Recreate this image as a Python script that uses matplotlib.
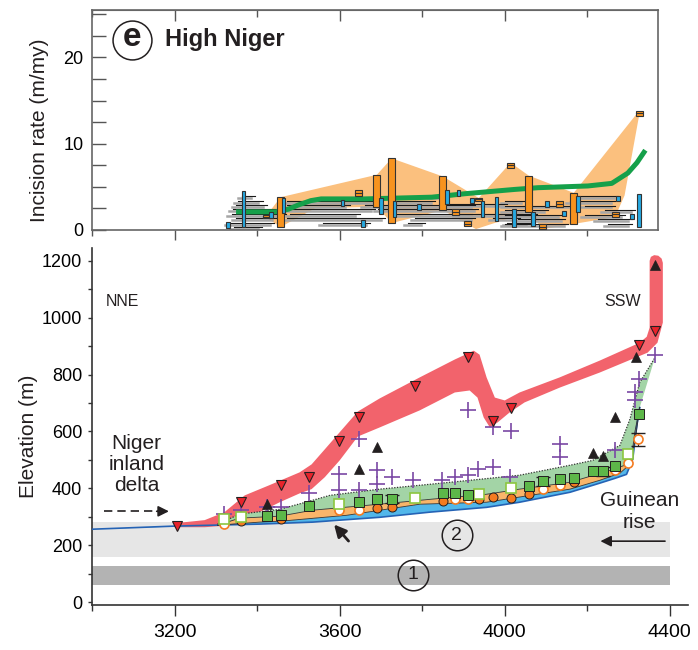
import numpy as np
import matplotlib.pyplot as plt
from matplotlib.ticker import MultipleLocator

plt.rcParams['font.family'] = ['Liberation Sans', 'DejaVu Sans']
plt.rcParams['text.color'] = '#231f20'

# ---------------- top panel: incision rates (m/my) ----------------
blue_x = [3329, 3367, 3433, 3464, 3607, 3656, 3700, 3733, 3792, 3860, 3888, 3920,
          3946, 3980, 4022, 4068, 4102, 4143, 4177, 4274, 4308, 4325]
blue_lo = [0.2, 0.35, 1.4, 2.0, 2.8, 0.35, 1.9, 1.5, 2.3, 3.0, 3.9, 3.1,
           1.5, 1.0, 0.35, 0.5, 2.7, 1.6, 2.1, 3.4, 1.3, 0.35]
blue_hi = [0.9, 4.5, 2.1, 3.7, 3.5, 1.2, 3.7, 3.3, 3.0, 4.6, 4.6, 3.7,
           3.3, 3.8, 2.4, 2.1, 3.3, 2.2, 3.9, 3.9, 1.9, 4.2]

or_x = [3423, 3457, 3646, 3690, 3726, 3850, 3881, 3910, 3937, 4014, 4058, 4092,
        4133, 4167, 4267, 4325]
or_lo = [1.4, 0.35, 3.9, 2.7, 0.8, 2.3, 1.7, 0.45, 3.4, 7.2, 2.1, 0.1,
         2.7, 0.7, 1.5, 13.2]
or_hi = [1.7, 3.8, 4.6, 6.4, 8.3, 6.2, 2.4, 1.0, 3.7, 7.8, 6.3, 0.7,
         3.3, 4.3, 2.1, 13.8]

env_up_x = [3423, 3457, 3690, 3726, 3850, 3937, 4014, 4058, 4167, 4325]
env_up_y = [1.7, 3.8, 6.4, 8.3, 6.2, 3.7, 7.8, 6.3, 4.3, 13.8]
env_lo_x = [3423, 3457, 3540, 3690, 3726, 3850, 3930, 4058, 4092, 4167, 4267, 4290, 4325]
env_lo_y = [1.4, 0.35, 2.5, 2.7, 0.8, 2.3, 0.1, 2.1, 0.1, 0.7, 1.5, 4.0, 13.2]

green_x = [3355, 3445, 3475, 3500, 3530, 3555, 3661, 3823, 3903, 4024, 4080,
           4201, 4259, 4298, 4320, 4337]
green_y = [2.1, 2.1, 2.4, 2.9, 3.4, 3.6, 3.6, 3.8, 4.2, 4.7, 4.9,
           5.1, 5.4, 6.6, 7.8, 9.0]

# horizontal age-range lines (x start, x end, rate)
seg = [(3363, 3394, 3.95), (3353, 3413, 3.37), (3350, 3423, 2.9), (3341, 3447, 2.44),
       (3338, 3471, 1.86), (3350, 3447, 1.39), (3333, 3442, 0.81), (3345, 3411, 0.35),
       (3472, 3697, 3.4), (3472, 3624, 2.9), (3467, 3685, 2.4), (3479, 3648, 1.86),
       (3472, 3709, 1.36), (3559, 3673, 0.85),
       (3823, 3872, 3.9), (3733, 3830, 3.37), (3661, 3927, 2.87), (3692, 3935, 2.4),
       (3733, 3920, 1.86), (3782, 3927, 1.36), (3765, 3806, 0.85),
       (3860, 4005, 3.0), (3884, 4078, 1.86), (3971, 4036, 1.39), (4005, 4061, 0.81),
       (4177, 4274, 3.9), (4158, 4267, 3.37), (4000, 4048, 3.37), (4000, 4162, 2.83),
       (4194, 4267, 2.83), (4000, 4104, 2.32), (4242, 4315, 2.32), (4000, 4139, 1.74),
       (4194, 4291, 1.74), (4031, 4145, 1.24), (4225, 4308, 1.24), (4000, 4153, 0.7),
       (4250, 4308, 0.7)]

# ---------------- bottom panel: elevation profile (m) ----------------
red_up_x = [3200, 3273, 3321, 3370, 3430, 3503, 3532, 3564, 3600, 3644, 3697, 3794,
            3879, 3925, 3939, 3956, 3976, 4000, 4036, 4133, 4230, 4327, 4344, 4351,
            4351, 4354, 4362, 4372, 4380, 4383]
red_up_y = [277, 288, 316, 375, 411, 456, 484, 537, 597, 670, 716, 790,
            853, 884, 870, 790, 719, 709, 737, 790, 849, 912, 933, 965,
            1200, 1214, 1220, 1218, 1208, 1193]
red_lo_x = [3200, 3273, 3309, 3358, 3406, 3455, 3503, 3532, 3564, 3600, 3644, 3697,
            3794, 3879, 3915, 3934, 3949, 3964, 3983, 4012, 4048, 4133, 4230, 4346,
            4370, 4383]
red_lo_y = [263, 263, 267, 288, 316, 351, 382, 397, 439, 498, 582, 614,
            674, 737, 744, 719, 649, 614, 632, 667, 702, 754, 807, 877,
            912, 983]

l0_x = [3000, 3200, 3406, 3535, 3697, 3818, 3956, 4036, 4158, 4230, 4267, 4295, 4310, 4320, 4327]
l0_y = [256, 267, 274, 281, 298, 316, 333, 351, 386, 418, 435, 449, 502, 621, 684]
l1_x = [3304, 3406, 3455, 3617, 3794, 3956, 4158, 4230, 4279, 4303, 4315, 4327]
l1_y = [270, 281, 284, 305, 344, 351, 397, 428, 453, 484, 561, 684]
l2_x = [3304, 3358, 3455, 3535, 3697, 3818, 3956, 4036, 4158, 4255, 4291, 4308, 4315, 4327]
l2_y = [270, 295, 302, 323, 344, 361, 379, 397, 421, 463, 481, 516, 597, 684]
l3_x = [3304, 3358, 3455, 3535, 3576, 3697, 3818, 3915, 4036, 4158, 4213, 4279, 4303, 4327, 4364]
l3_y = [274, 309, 326, 358, 375, 397, 414, 428, 446, 481, 498, 551, 642, 772, 860]

plus_x = [3321, 3360, 3423, 3457, 3525, 3598, 3598, 3646, 3646, 3690, 3690, 3726, 3777,
          3847, 3879, 3911, 3935, 3971, 4012, 3911, 3971, 4015, 4133, 4133, 4267, 4315,
          4315, 4325, 4364]
plus_y = [309, 323, 333, 333, 382, 449, 393, 572, 393, 463, 414, 439, 428,
          428, 439, 446, 467, 474, 439, 674, 614, 600, 554, 509, 533, 737,
          712, 783, 870]

tri_dn_x = [3205, 3360, 3457, 3525, 3598, 3646, 3782, 3911, 3972, 4016, 4326, 4365]
tri_dn_y = [267, 351, 411, 439, 565, 649, 758, 863, 635, 684, 905, 954]
tri_up_x = [3423, 3646, 3690, 4213, 4238, 4267, 4318, 4364]
tri_up_y = [344, 467, 544, 523, 512, 649, 860, 1186]

sq_x = [3423, 3457, 3525, 3646, 3690, 3726, 3850, 3879, 3911, 4058, 4092, 4133, 4167,
        4213, 4238, 4267, 4325]
sq_y = [302, 305, 337, 351, 361, 361, 382, 382, 375, 407, 425, 432, 435,
        460, 460, 477, 660]
sq_err = [0, 0, 0, 0, 0, 14, 0, 0, 0, 0, 16, 0, 0, 0, 16, 0, 0]
osq_x = [3321, 3360, 3598, 3782, 3937, 4015, 4298]
osq_y = [291, 298, 344, 365, 379, 400, 519]
ci_x = [3360, 3457, 3690, 3726, 3850, 3937, 3971, 4015, 4058, 4167]
ci_y = [284, 291, 330, 333, 354, 361, 368, 365, 379, 421]
oci_x = [3321, 3598, 3646, 3879, 3911, 4092, 4133, 4267, 4298, 4322]
oci_y = [274, 323, 323, 361, 361, 397, 411, 463, 488, 572]

band_x = [3000, 4400]
band2 = (158, 281)
band1 = (60, 126)

fig = plt.figure(figsize=(6.98, 6.50), dpi=100)
ax1 = fig.add_axes([0.1318, 0.6462, 0.8109, 0.3385])
ax2 = fig.add_axes([0.1318, 0.0692, 0.8539, 0.5492])

# ---- top panel ----
ax1.fill(np.r_[env_up_x, env_lo_x[::-1]], np.r_[env_up_y, env_lo_y[::-1]],
         color='#fbc07e', lw=0, zorder=1)
for x0, x1, r in seg:
    ax1.plot([x0 - 10, x1 - 10], [r - 0.22, r - 0.22], color='#a6a6a6', lw=1.8, zorder=2)
    ax1.plot([x0, x1], [r, r], color='#1a1a1a', lw=0.8, zorder=2.1)
ax1.plot(green_x, green_y, color='#15a04a', lw=3.6, zorder=3)
or_lo_a, or_hi_a = np.array(or_lo), np.array(or_hi)
ax1.bar(or_x, or_hi_a - or_lo_a, bottom=or_lo_a, width=17, color='#f7931e',
        edgecolor='#333333', lw=0.8, zorder=4)
for x, lo, hi in zip(or_x, or_lo, or_hi):
    if hi - lo < 1:
        ax1.plot([x - 8, x + 8], [(lo + hi) / 2] * 2, color='#333333', lw=0.8, zorder=4.1)
bl_lo_a, bl_hi_a = np.array(blue_lo), np.array(blue_hi)
ax1.bar(blue_x, bl_hi_a - bl_lo_a, bottom=bl_lo_a, width=9, color='#27a9e1',
        edgecolor='#333333', lw=0.8, zorder=5)

ax1.plot([3098], [22.05], 'o', ms=28, mfc='white', mec='#231f20', mew=1.1, zorder=6)
ax1.text(3098, 22.3, 'e', fontsize=24, fontweight='bold', ha='center', va='center', zorder=7)
ax1.text(3178, 22.05, 'High Niger', fontsize=17, fontweight='bold', ha='left', va='center')

ax1.set_xlim(3000, 4371)
ax1.set_ylim(0, 25.5)
ax1.set_yticks([0, 10, 20])
ax1.yaxis.set_minor_locator(MultipleLocator(2.5))
ax1.set_xticks([3200, 3600, 4000])
ax1.xaxis.set_minor_locator(MultipleLocator(200))
ax1.set_xticklabels([])
ax1.tick_params(axis='y', which='both', direction='in', length=10, width=1,
                color='#555555', labelsize=13, pad=6)
ax1.tick_params(axis='x', which='major', direction='out', length=7, width=1, color='#555555')
ax1.tick_params(axis='x', which='minor', direction='out', length=4, width=1, color='#555555')
top = ax1.secondary_xaxis('top')
top.set_xticks([3200, 3600, 4000])
top.xaxis.set_minor_locator(MultipleLocator(200))
top.set_xticklabels([])
top.tick_params(which='major', direction='in', length=8, width=1, color='#555555')
top.tick_params(which='minor', direction='in', length=5, width=1, color='#555555')
top.spines['top'].set_color('#666666')
for s in ax1.spines.values():
    s.set_color('#666666')
    s.set_linewidth(1.2)

# ---- bottom panel ----
ax2.fill_between(band_x, band2[0], band2[1], color='#e6e6e6', lw=0, zorder=0.5)
ax2.fill_between(band_x, band1[0], band1[1], color='#b3b3b3', lw=0, zorder=0.5)

ax2.fill(np.r_[red_up_x, red_lo_x[::-1]], np.r_[red_up_y, red_lo_y[::-1]],
         color='#f2636c', lw=0, zorder=1)

ax2.fill(np.r_[l0_x, l1_x[::-1]], np.r_[l0_y, l1_y[::-1]], color='#52b7ea', lw=0, zorder=2)
ax2.fill(np.r_[l1_x, l2_x[::-1]], np.r_[l1_y, l2_y[::-1]], color='#f9b56a', lw=0, zorder=2)
ax2.fill(np.r_[l2_x, l3_x[::-1]], np.r_[l2_y, l3_y[::-1]], color='#a3d4a6', lw=0, zorder=2)
ax2.plot(l0_x, l0_y, color='#2563b5', lw=1.2, zorder=3)
ax2.plot(l1_x, l1_y, color='#333333', lw=0.6, zorder=3)
ax2.plot(l2_x, l2_y, color='#333333', lw=0.6, zorder=3)
ax2.plot(l3_x, l3_y, color='#333333', lw=0.9, ls=(0, (1, 1.2)), zorder=3)

ax2.plot(plus_x, plus_y, '+', ms=12, mew=1.2, color='#7a48a4', zorder=5)
ax2.plot(tri_dn_x, tri_dn_y, 'v', ms=7.5, mfc='#e8232b', mec='#231f20', mew=0.8, zorder=6)
ax2.plot(tri_up_x, tri_up_y, '^', ms=7.5, mfc='#231f20', mec='#231f20', mew=0.5, zorder=6)

sq_err_a = np.array(sq_err)
ax2.errorbar(np.array(sq_x)[sq_err_a > 0], np.array(sq_y)[sq_err_a > 0],
             yerr=sq_err_a[sq_err_a > 0], fmt='none', ecolor='#231f20', elinewidth=0.8,
             capsize=5, zorder=6)
ax2.errorbar([4322], [572], yerr=[22], fmt='none', ecolor='#231f20', elinewidth=0.8,
             capsize=5, zorder=6)
ax2.plot(oci_x, oci_y, 'o', ms=6.5, mfc='white', mec='#f47b20', mew=1.2, zorder=7)
ax2.plot(ci_x, ci_y, 'o', ms=6.5, mfc='#f47b20', mec='#231f20', mew=0.7, zorder=7)
ax2.plot(osq_x, osq_y, 's', ms=6.5, mfc='white', mec='#8cc63f', mew=1.2, zorder=8)
ax2.plot(sq_x, sq_y, 's', ms=6.5, mfc='#5db749', mec='#231f20', mew=0.7, zorder=8)

# annotations
ax2.text(3033, 1056, 'NNE', fontsize=11.5, ha='left', va='center')
ax2.text(4286, 1056, 'SSW', fontsize=11.5, ha='center', va='center')
ax2.text(3108, 484, 'Niger\ninland\ndelta', fontsize=15, ha='center', va='center',
         linespacing=1.15)
ax2.plot([3030, 3165], [319, 319], color='#231f20', lw=1.2, ls=(0, (5, 3)))
ax2.annotate('', xy=(3193, 319), xytext=(3150, 319),
             arrowprops=dict(arrowstyle='-|>', color='#231f20', lw=1.2, mutation_scale=16))
ax2.text(4327, 318, 'Guinean\nrise', fontsize=15, ha='center', va='center', linespacing=1.15)
ax2.annotate('', xy=(4225, 214), xytext=(4395, 214),
             arrowprops=dict(arrowstyle='-|>', color='#231f20', lw=1.2, mutation_scale=16))
ax2.annotate('', xy=(3582, 280), xytext=(3626, 207),
             arrowprops=dict(arrowstyle='-|>', color='#231f20', lw=2, mutation_scale=18))
for num, (cx, cy) in zip(['2', '1'], [(3884, 235), (3777, 95)]):
    ax2.plot([cx], [cy], 'o', ms=22, mfc='none', mec='#231f20', mew=1.1, zorder=9)
    ax2.text(cx, cy, num, fontsize=14, ha='center', va='center', zorder=9)

ax2.set_xlim(3000, 4444)
ax2.set_ylim(-10.6, 1245)
ax2.set_xticks([3200, 3600, 4000, 4400])
ax2.xaxis.set_minor_locator(MultipleLocator(200))
ax2.set_yticks([0, 200, 400, 600, 800, 1000, 1200])
ax2.yaxis.set_minor_locator(MultipleLocator(100))
ax2.tick_params(axis='x', which='major', direction='out', length=8, width=1,
                color='#333333', labelsize=14, pad=6)
ax2.tick_params(axis='x', which='minor', direction='out', length=4, width=1, color='#333333')
ax2.tick_params(axis='y', which='both', direction='out', length=3, width=1,
                color='#333333', labelsize=13, pad=4)
for s in ['top', 'right']:
    ax2.spines[s].set_visible(False)
for s in ['left', 'bottom']:
    ax2.spines[s].set_color('#333333')
    ax2.spines[s].set_linewidth(1.2)

fig.text(40 / 698, 0.80, 'Incision rate (m/my)', fontsize=15, rotation=90,
         ha='center', va='center')
fig.text(28 / 698, 0.328, 'Elevation (m)', fontsize=15, rotation=90,
         ha='center', va='center')

fig.savefig('out.png', dpi=100)
